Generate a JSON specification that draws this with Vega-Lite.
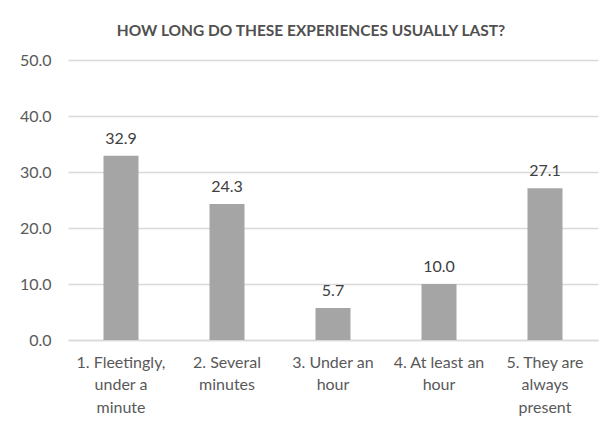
{
  "$schema": "https://vega.github.io/schema/vega-lite/v6.json",
  "autosize": "none",
  "width": 530,
  "height": 280,
  "padding": {"left": 68, "top": 60, "right": 13, "bottom": 84},
  "background": "white",
  "title": {
    "text": "HOW LONG DO THESE EXPERIENCES  USUALLY LAST?",
    "font": "Lato",
    "fontSize": 15.5,
    "fontWeight": "bold",
    "color": "#505050",
    "anchor": "middle",
    "dx": -22,
    "offset": 13
  },
  "data": {
    "values": [
      {"category": "1. Fleetingly,|under a|minute", "value": 32.9},
      {"category": "2. Several|minutes", "value": 24.3},
      {"category": "3. Under an|hour", "value": 5.7},
      {"category": "4. At least an|hour", "value": 10.0},
      {"category": "5. They are|always|present", "value": 27.1}
    ]
  },
  "encoding": {
    "x": {
      "field": "category",
      "type": "nominal",
      "sort": null,
      "title": null,
      "scale": {"paddingInner": 0, "paddingOuter": 0},
      "axis": {
        "labelAngle": 0,
        "labelExpr": "split(datum.value, '|')",
        "labelFont": "Lato",
        "labelFontSize": 16,
        "labelColor": "#595959",
        "labelLineHeight": 22.5,
        "labelPadding": 22,
        "ticks": false,
        "domain": true,
        "domainColor": "#d9d9d9",
        "domainWidth": 1.5,
        "labelBaseline": "middle"
      }
    },
    "y": {
      "field": "value",
      "type": "quantitative",
      "title": null,
      "scale": {"domain": [0, 50], "nice": false},
      "axis": {
        "values": [0, 10, 20, 30, 40, 50],
        "format": ".1f",
        "labelFont": "Lato",
        "labelFontSize": 16,
        "labelColor": "#595959",
        "labelPadding": 17,
        "ticks": false,
        "domain": false,
        "grid": true,
        "gridColor": "#d9d9d9",
        "gridWidth": 1.5
      }
    }
  },
  "layer": [
    {"mark": {"type": "bar", "size": 35, "color": "#a5a5a5"}},
    {
      "mark": {"type": "text", "dy": -17, "font": "Lato", "fontSize": 16, "color": "#404040"},
      "encoding": {"text": {"field": "value", "type": "quantitative", "format": ".1f"}}
    }
  ],
  "config": {"view": {"stroke": null}}
}
